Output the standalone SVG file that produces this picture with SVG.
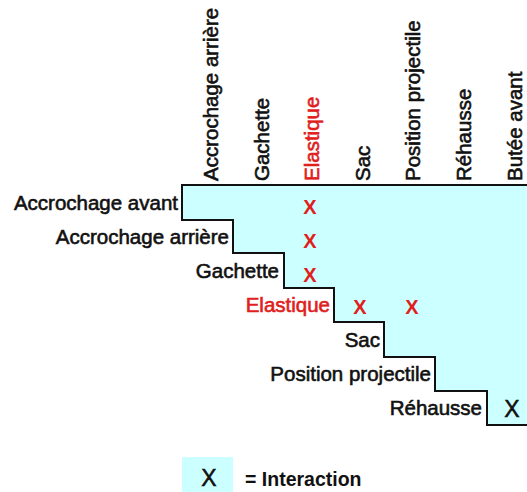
<svg xmlns="http://www.w3.org/2000/svg" width="527" height="492" viewBox="0 0 527 492">
  <style>
    .lbl { font-family: "Liberation Sans", Arial, sans-serif; font-size: 20.5px; fill: #111; stroke: #111; stroke-width: 0.6; }
    .red { fill: #e0201c; stroke: #e0201c; }
    .row { text-anchor: end; }
    .mark { font-family: "Liberation Sans", Arial, sans-serif; font-size: 20px; font-weight: bold; fill: #e0201c; text-anchor: middle; }
    .markb { font-family: "Liberation Sans", Arial, sans-serif; font-size: 23px; fill: #111; stroke: #111; stroke-width: 0.5; text-anchor: middle; }
    .area { fill: #ccffff; }
    .edge { fill: none; stroke: #111; stroke-width: 2; }
  </style>

  <!-- interaction triangle -->
  <g id="matrix">
    <path class="area" d="M182,185 H527 V425 H487 V391 H435 V357 H384 V322 H334 V288 H284 V253 H233 V220 H182 Z"/>
    <path class="edge" d="M527,185 H182 V220 H233 V253 H284 V288 H334 V322 H384 V357 H435 V391 H487 V425 H527"/>
  </g>

  <!-- column headers -->
  <g id="col-accrochage-arriere"><text class="lbl" transform="translate(218,181) rotate(-90)">Accrochage arrière</text></g>
  <g id="col-gachette"><text class="lbl" transform="translate(268.5,181) rotate(-90)">Gachette</text></g>
  <g id="col-elastique"><text class="lbl red" transform="translate(319,181) rotate(-90)">Elastique</text></g>
  <g id="col-sac"><text class="lbl" transform="translate(369.5,181) rotate(-90)">Sac</text></g>
  <g id="col-position-projectile"><text class="lbl" transform="translate(420,181) rotate(-90)">Position projectile</text></g>
  <g id="col-rehausse"><text class="lbl" transform="translate(471,181) rotate(-90)">Réhausse</text></g>
  <g id="col-butee-avant"><text class="lbl" transform="translate(522,181) rotate(-90)">Butée avant</text></g>

  <!-- row headers -->
  <g id="row-accrochage-avant"><text class="lbl row" x="178" y="210">Accrochage avant</text></g>
  <g id="row-accrochage-arriere"><text class="lbl row" x="229" y="244">Accrochage arrière</text></g>
  <g id="row-gachette"><text class="lbl row" x="279" y="278">Gachette</text></g>
  <g id="row-elastique"><text class="lbl row red" x="330" y="312">Elastique</text></g>
  <g id="row-sac"><text class="lbl row" x="380" y="347">Sac</text></g>
  <g id="row-position-projectile"><text class="lbl row" x="431" y="381">Position projectile</text></g>
  <g id="row-rehausse"><text class="lbl row" x="482" y="415">Réhausse</text></g>

  <!-- interaction marks -->
  <g id="marks">
    <text class="mark" x="310" y="214">X</text>
    <text class="mark" x="310" y="248">X</text>
    <text class="mark" x="310" y="282">X</text>
    <text class="mark" x="360" y="314">X</text>
    <text class="mark" x="412" y="314">X</text>
    <text class="markb" x="512" y="417">X</text>
  </g>

  <!-- legend -->
  <g id="legend">
    <rect class="area" x="182" y="457" width="51" height="35"/>
    <text class="markb" x="209" y="486">X</text>
    <text class="lbl" x="245" y="486" style="font-size:19.5px;font-weight:bold;stroke-width:0">= Interaction</text>
  </g>
</svg>
